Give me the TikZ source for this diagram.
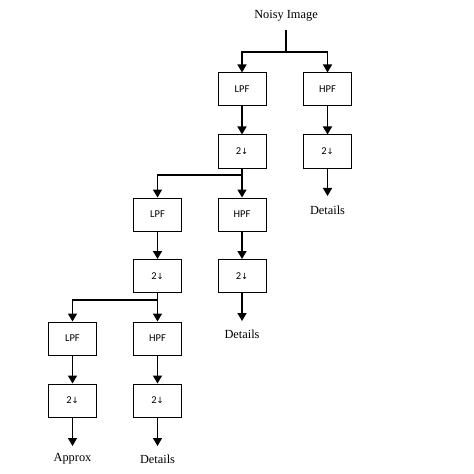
\documentclass[tikz,border=0pt]{standalone}
\usepackage{fontspec}
\setmainfont{Liberation Serif}
\newfontfamily\boxfont{Carlito}
\newfontfamily\arrfont{DejaVu Sans}
\usetikzlibrary{arrows.meta}

\begin{document}
\begin{tikzpicture}[x=1bp, y=-1bp,
	filt/.style={draw, line width=1pt, minimum width=48bp, minimum height=33bp, inner sep=0pt, font=\boxfont\fontsize{10.5}{12}\selectfont},
	arr/.style={line width=1.6pt, -{Triangle[width=9bp,length=8bp]}},
	lbl/.style={font=\fontsize{12.4}{14}\selectfont}]
	\useasboundingbox (0,0) rectangle (474,474);

	% first stage
	\node[lbl] (img) at (286, 16) {Noisy Image};
	\node[filt] (lp1) at (242, 89.5) {LPF};
	\node[filt] (hp1) at (327.5, 89.5) {HPF};
	\node[filt] (ds1) at (242, 151.5) {2{\arrfont\fontsize{8.5}{10}\selectfont↓}};
	\node[filt] (dh1) at (327.5, 151.5) {2{\arrfont\fontsize{8.5}{10}\selectfont↓}};
	\node[lbl] (out1) at (327.5, 210) {Details};

	% second stage
	\node[filt] (lp2) at (157.5, 214.5) {LPF};
	\node[filt] (hp2) at (242, 214.5) {HPF};
	\node[filt] (ds2) at (157.5, 276) {2{\arrfont\fontsize{8.5}{10}\selectfont↓}};
	\node[filt] (dh2) at (242, 276) {2{\arrfont\fontsize{8.5}{10}\selectfont↓}};
	\node[lbl] (out2) at (242, 334) {Details};

	% third stage
	\node[filt] (lp3) at (72.5, 338.5) {LPF};
	\node[filt] (hp3) at (157.5, 338.5) {HPF};
	\node[filt] (ds3) at (72.5, 400.5) {2{\arrfont\fontsize{8.5}{10}\selectfont↓}};
	\node[filt] (dh3) at (157.5, 400.5) {2{\arrfont\fontsize{8.5}{10}\selectfont↓}};
	\node[lbl] (apx) at (72.5, 459) {Approx};
	\node[lbl] (out3) at (157.5, 459) {Details};

	\coordinate (src) at (286, 30);
	\coordinate (j0) at (286, 52);
	\coordinate (j1) at (242, 175);
	\coordinate (j2) at (157.5, 300);
	\coordinate (e1) at (327.5, 196);
	\coordinate (e2) at (242, 321);
	\coordinate (e3) at (72.5, 446);
	\coordinate (e4) at (157.5, 446);

	\draw[line width=1.6pt] (src) -- (j0);
	\draw[arr] (j0) -| (lp1.north);
	\draw[arr] (j0) -| (hp1.north);
	\draw[line width=1.6pt] (ds1.south) -- (j1);
	\draw[line width=1.6pt] (ds2.south) -- (j2);
	\draw[arr] (j1) -| (lp2.north);
	\draw[arr] (j1) -- (hp2.north);
	\draw[arr] (j2) -| (lp3.north);
	\draw[arr] (j2) -- (hp3.north);
	\foreach \a/\b in {lp1/ds1, hp1/dh1, lp2/ds2, hp2/dh2, lp3/ds3, hp3/dh3}
		\draw[arr] (\a.south) -- (\b.north);
	\foreach \a/\b in {dh1/e1, dh2/e2, ds3/e3, dh3/e4}
		\draw[arr] (\a.south) -- (\b);
\end{tikzpicture}
\end{document}
